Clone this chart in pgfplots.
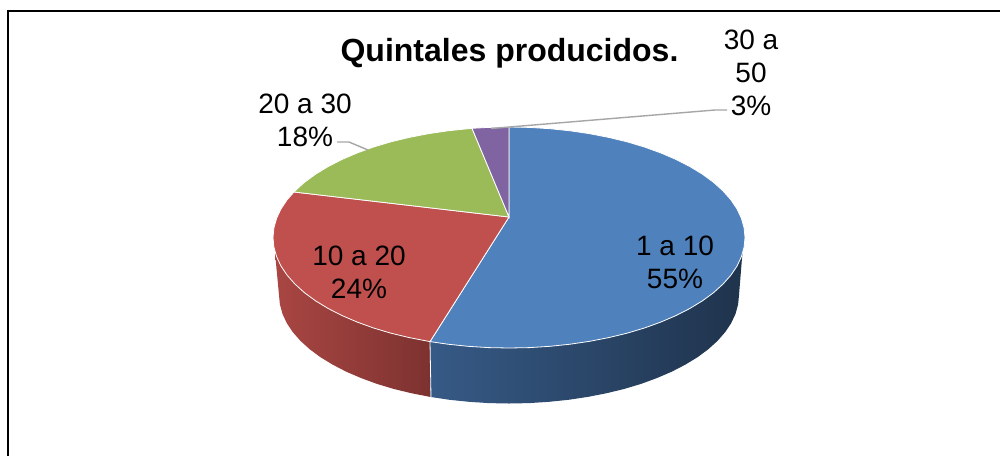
\documentclass[border=0pt]{standalone}
\usepackage{pgfplots}
\pgfplotsset{compat=1.18}
\usepackage{fontspec}
\setmainfont{Liberation Sans}
\definecolor{cblue}{HTML}{4F81BD}
\definecolor{cred}{HTML}{C0504D}
\definecolor{cgreen}{HTML}{9BBB59}
\definecolor{cpurple}{HTML}{8064A2}
\newcommand{\lab}[3]{\node[anchor=base,inner sep=0pt,text=black,font=\fontsize{28}{32}\selectfont] at (axis cs:#1,#2) {#3};}
\begin{document}
\begin{tikzpicture}
\begin{axis}[
  scale only axis, width=1000pt, height=456pt,
  xmin=0, xmax=1000, ymin=0, ymax=456, y dir=reverse,
  hide axis, clip=true]
% page background
\addplot[fill=white,draw=none] coordinates {(0,0)(1000,0)(1000,456)(0,456)} --cycle;
% frame: left and top edges only are inside the picture
\addplot[black,line width=2pt] coordinates {(8,456)(8,11)(1000,11)};
% side walls
\addplot[draw=none,left color={rgb,255:red,169;green,70;blue,67},right color={rgb,255:red,125;green,50;blue,48}] coordinates {
(430,341.6)(391,333.2)(342.1,315.6)(304.6,292.8)(276.6,256.7)(275,250)(275.5,258)(279,295)(279.9,304.4)(282.5,313.9)(286.8,323.1)(292.8,332.1)(300.5,340.9)(309.8,349.3)(320.6,357.3)(332.8,364.7)(346.3,371.7)(361.2,378.1)(377,383.9)(394,389)(411.8,393.3)(430.3,396.9)} --cycle;
\addplot[draw=none,left color={rgb,255:red,54;green,90;blue,134},middle color={rgb,255:red,32;green,52;blue,78},right color={rgb,255:red,31;green,51;blue,76}] coordinates {
(430,341.6)(509,348)(627,333.2)(702.3,300.9)(741.4,256.7)(743,250)(742,258)(739,295)(738.1,304.4)(735.5,313.9)(731.2,323.1)(725.2,332.1)(717.5,340.9)(708.2,349.3)(697.4,357.3)(685.2,364.7)(671.7,371.7)(656.8,378.1)(641,383.9)(624,389)(606.2,393.3)(587.7,396.9)(568.5,399.8)(549,401.8)(529.1,403.1)(509,403.5)(488.9,403.1)(469,401.8)(449.5,399.8)(430.3,396.9)} --cycle;
\addplot[white,line width=0.8pt] coordinates {(430,341.6)(431,396.9)};
% top face
\addplot[fill=cblue,draw=white,line width=0.8pt] coordinates {(509,217)
(509,127)(529.6,127.4)(550,128.7)(570.1,130.8)(589.7,133.7)(608.7,137.4)(627,141.8)(644.4,147)(660.7,152.9)(675.9,159.4)(689.8,166.5)(702.3,174.1)(713.4,182.2)(722.9,190.8)(730.8,199.7)(737,208.9)(741.4,218.3)(744.1,227.9)(745,237.5)
(744.1,247.1)(741.4,256.7)(737,266.1)(730.8,275.3)(722.9,284.2)(713.4,292.8)(702.3,300.9)(689.8,308.5)(675.9,315.6)(660.7,322.1)(644.4,328)(627,333.2)(608.7,337.6)(589.7,341.3)(570.1,344.2)(550,346.3)(529.6,347.6)(509,348)
(488.4,347.6)(468,346.3)(447.9,344.2)(430,341.6)} --cycle;
\addplot[fill=cred,draw=white,line width=0.8pt] coordinates {(509,217)(430,341.6)(409.3,337.6)(391,333.2)(373.6,328)(357.3,322.1)(342.1,315.6)(328.2,308.5)(315.7,300.9)(304.6,292.8)(295.1,284.2)(287.2,275.3)(281,266.1)(276.6,256.7)(273.9,247.1)(273,237.5)(273.9,227.9)(276.6,218.3)(281,208.9)(287.2,199.7)(294,192)} --cycle;
\addplot[fill=cgreen,draw=white,line width=0.8pt] coordinates {(509,217)(294,192)(295.1,190.8)(304.6,182.2)(315.7,174.1)(328.2,166.5)(342.1,159.4)(357.3,152.9)(373.6,147)(391,141.8)(409.3,137.4)(428.3,133.7)(447.9,130.8)(472,128.3)} --cycle;
\addplot[fill=cpurple,draw=white,line width=0.8pt] coordinates {(509,217)(472,128.3)(488.4,127.4)(509,127)} --cycle;
% leader lines
\addplot[color={rgb,255:red,166;green,166;blue,166},line width=1.4pt] coordinates {(337,142)(349,142)(368,150)};
\addplot[color={rgb,255:red,166;green,166;blue,166},line width=1.4pt] coordinates {(727,110)(715,110)(491,128.5)};
% title
\node[anchor=base,inner sep=0pt,font=\fontsize{32}{36}\selectfont\bfseries] at (axis cs:509.5,61) {Quintales producidos.};
% labels
\lab{675}{255}{1 a 10}
\lab{675}{288}{55\%}
\lab{359}{265}{10 a 20}
\lab{359}{298}{24\%}
\lab{305}{113}{20 a 30}
\lab{305}{146}{18\%}
\lab{751}{49}{30 a}
\lab{751}{82}{50}
\lab{751}{115}{3\%}
\end{axis}
\end{tikzpicture}
\end{document}
